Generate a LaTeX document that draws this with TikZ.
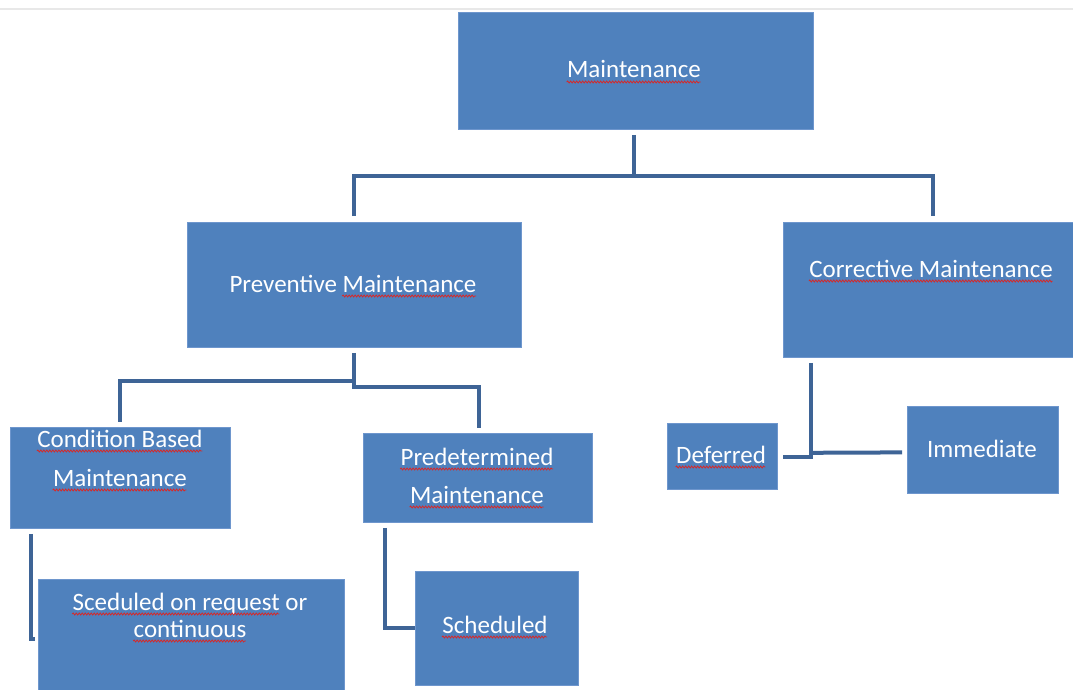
\documentclass[tikz,border=0pt]{standalone}
\usepackage{fontspec}
\setmainfont{Carlito}
\usetikzlibrary{calc,decorations.pathmorphing}
\definecolor{boxblue}{RGB}{79,129,189}
\definecolor{boxedge}{RGB}{110,150,205}
\definecolor{connblue}{RGB}{62,100,150}
\definecolor{squigred}{RGB}{215,40,40}
\definecolor{topgray}{RGB}{232,232,232}
\newsavebox\wvbox
\newcommand\rwv[1]{\sbox\wvbox{#1}\edef\wvw{\the\wd\wvbox}\usebox\wvbox\llap{\tikz[baseline=0pt,x=1pt,y=1pt]{\draw[squigred,line width=0.8pt,decorate,decoration={snake,amplitude=1pt,segment length=3pt}] (0,-4) -- (\wvw,-4);}}}
\begin{document}
\begin{tikzpicture}[x=1pt,y=-1pt,
  box/.style={rectangle,fill=boxblue,draw=boxedge,line width=0.8pt,inner sep=0pt,anchor=north west},
  lbl/.style={text=white,font=\fontsize{25}{39}\selectfont,align=center,inner sep=0pt,anchor=base},
  conn/.style={draw=connblue,line width=4pt}]
\useasboundingbox (0,0) rectangle (1073,690);
\draw[topgray,line width=2pt] (0,9.5) -- (1073,9.5);
% boxes
\node[box,minimum width=355pt,minimum height=117pt] (maint) at (458,12) {};
\node[box,minimum width=334pt,minimum height=125pt] (prev) at (187,222) {};
\node[box,minimum width=295pt,minimum height=135pt] (corr) at (783,222) {};
\node[box,minimum width=220pt,minimum height=101pt] (cond) at (10,427) {};
\node[box,minimum width=229pt,minimum height=89pt] (pred) at (363,433) {};
\node[box,minimum width=306pt,minimum height=115pt] (sced) at (38,579) {};
\node[box,minimum width=163pt,minimum height=114pt] (sched) at (415,571) {};
\node[box,minimum width=110pt,minimum height=66pt] (def) at (667,423) {};
\node[box,minimum width=151pt,minimum height=87pt] (imm) at (907,406) {};
% labels
\node[lbl] (tmaint) at (634,78) {\rwv{Maintenance}};
\node[lbl] (tprev) at (353,292) {Preventive \rwv{Maintenance}};
\node[lbl] (tcorr) at (931,277) {\rwv{Corrective Maintenance}};
\node[lbl] (tcond1) at (120,447) {\rwv{Condition Based}};
\node[lbl] (tcond2) at (120,486) {\rwv{Maintenance}};
\node[lbl] (tpred1) at (477,465) {\rwv{Predetermined}};
\node[lbl] (tpred2) at (477,503) {\rwv{Maintenance}};
\node[lbl] (tsced1) at (190,610) {\rwv{Sceduled on request} or};
\node[lbl] (tsced2) at (190,637) {\rwv{continuous}};
\node[lbl] (tsched) at (495,633) {\rwv{Scheduled}};
\node[lbl] (tdef) at (721,463) {\rwv{Deferred}};
\node[lbl] (timm) at (982,457) {Immediate};
% connectors
\draw[conn] ($(maint.south)+(-1.5,5)$) -- ++(0,42);
\draw[conn] ($(prev.north)+(0,-6)$) -- ($(prev.north)+(0,-46)$) -| ($(corr.north west)+(150,-6)$);
\draw[conn] ($(prev.south)+(0,5)$) -- ++(0,34) -| ($(pred.north west)+(116,-5)$);
\draw[conn] ($(prev.south)+(0,33)$) -| ($(cond.north west)+(110,-5)$);
\draw[conn] ($(cond.south west)+(21,5)$) |- ($(sced.west)+(-3,2.5)$);
\draw[conn] ($(pred.south west)+(22,5)$) |- (sched.west);
\draw[conn] ($(corr.south west)+(28,5)$) |- ($(def.east)+(5,1)$);
\draw[conn] ($(corr.south west)+(28,95)$) -- ($(imm.west)+(-5,2.5)$);
\end{tikzpicture}
\end{document}
